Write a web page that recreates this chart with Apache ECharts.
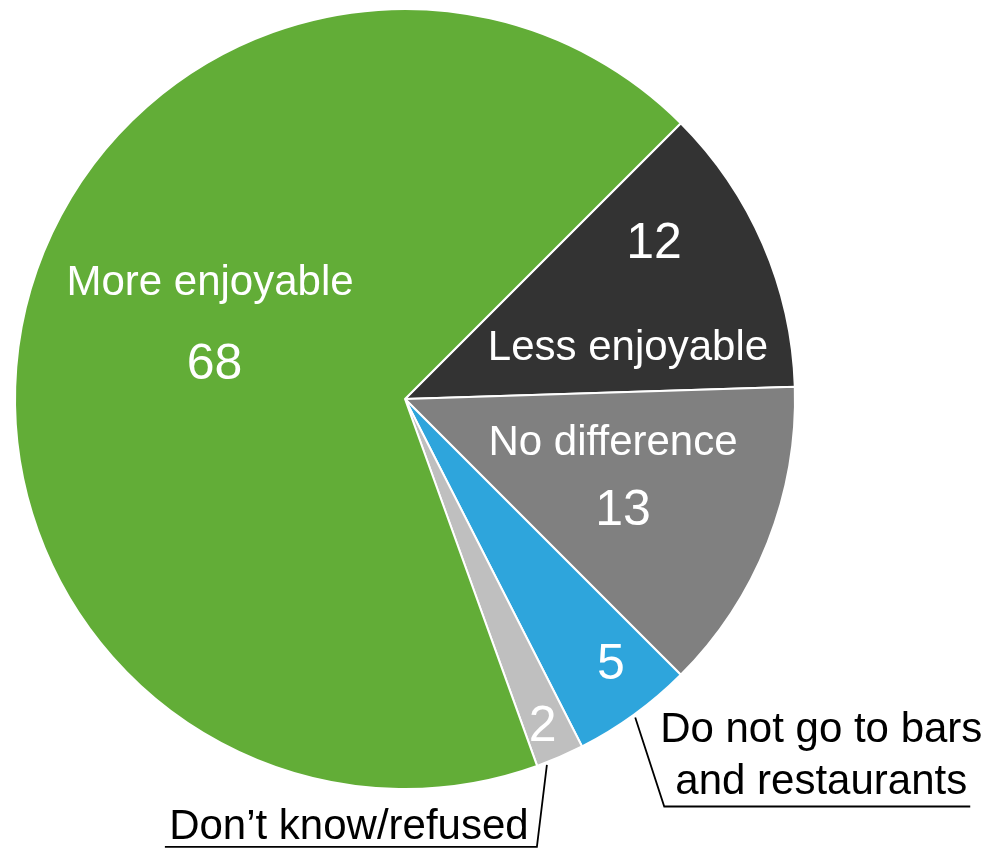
<!DOCTYPE html>
<html>
<head>
<meta charset="utf-8">
<script src="https://cdn.jsdelivr.net/npm/echarts@6/dist/echarts.min.js"></script>
<style>html,body{margin:0;padding:0;background:#fff}#c{width:990px;height:848px}</style>
</head>
<body>
<div id="c"></div>
<script>
// ---- data ----
const categories = ['Less enjoyable', 'No difference', 'Do not go to bars and restaurants', 'Don\u2019t know/refused', 'More enjoyable'];
const values = [12, 13, 5, 2, 68];
const labelTexts = ['Less enjoyable', 'No difference', 'Do not go to bars\nand restaurants', 'Don\u2019t know/refused', 'More enjoyable'];

// ---- styles ----
const colors = ['#333333', '#808080', '#2ea5dc', '#bfbfbf', '#62ad37'];
const FONT = '"Liberation Sans", Arial, Helvetica, sans-serif';
const CX = 405, CY = 399, R = 390, START = 45;

// inside label placement (radial distance, angle shift from slice middle, template, line height, value indent)
const innerCfg = [
  { rr: 245.5, shift: 1.34,  tpl: '{v|VAL}\n{n|NAME}', lh: 104, indent: 52 },
  { rr: 222.3, shift: 0.96,  tpl: '{n|NAME}\n{v|VAL}', lh: 67,  indent: 20 },
  { rr: 336.3, shift: 1.73,  tpl: '{v|VAL}',           lh: 56,  indent: 0 },
  { rr: 355.7, shift: -0.65, tpl: '{v|VAL}',           lh: 56,  indent: 0 },
  { rr: 208.9, shift: -8.44, tpl: '{n|NAME}\n{v|VAL}', lh: 82,  indent: 9 }
];
// outside label leader geometry relative to slice edge point
const outerCfg = {
  2: { start: [1, 3],   bend: [30, 92],  side: 1,  len: 306, mid: 157, lh: 52, textDy: 2 },
  3: { start: [-13, 8], bend: [-23, 90], side: -1, len: 372, mid: 188, lh: 44, textDy: 2 }
};

const chart = echarts.init(document.getElementById('c'), null, { renderer: 'canvas' });

const baseSeries = {
  type: 'pie',
  center: [CX, CY],
  radius: [0, R],
  startAngle: START,
  clockwise: true,
  avoidLabelOverlap: false,
  silent: true,
  animation: false,
  itemStyle: { borderColor: '#ffffff', borderWidth: 2 },
  emphasis: { disabled: true },
  data: categories.map((c, i) => {
    const o = outerCfg[i];
    return {
      name: c,
      value: values[i],
      itemStyle: { color: colors[i] },
      label: o ? {
        show: true, position: 'outside', formatter: labelTexts[i],
        color: '#000000', fontSize: 42, fontFamily: FONT, lineHeight: o.lh,
        width: 420, overflow: 'none'
      } : { show: false },
      labelLine: o ? { show: true, length: 20, length2: 20, lineStyle: { color: '#000000', width: 1.8 } } : { show: false }
    };
  }),
  labelLayout: function (p) {
    const o = outerCfg[p.dataIndex];
    if (!o || !p.labelLinePoints) return {};
    const a = p.labelLinePoints[0];
    const s = [a[0] + o.start[0], a[1] + o.start[1]];
    const b = [a[0] + o.bend[0], a[1] + o.bend[1]];
    const e = [b[0] + o.side * o.len, b[1]];
    return {
      x: b[0] + o.side * o.mid,
      y: b[1] + o.textDy,
      align: 'center',
      verticalAlign: 'bottom',
      labelLinePoints: [s, b, e]
    };
  }
};

const overlaySeries = innerCfg.map((o, k) => ({
  type: 'pie',
  center: [CX, CY],
  radius: [2 * (o.rr - 3) - R, R],
  startAngle: START + o.shift,
  clockwise: true,
  avoidLabelOverlap: false,
  silent: true,
  animation: false,
  itemStyle: { color: 'rgba(0,0,0,0)', borderWidth: 0 },
  emphasis: { disabled: true },
  labelLine: { show: false },
  label: {
    position: 'inside',
    color: '#ffffff',
    fontFamily: FONT,
    formatter: function (p) {
      return o.tpl.replace('NAME', labelTexts[p.dataIndex]).replace('VAL', p.value);
    },
    rich: {
      n: { fontSize: 42, lineHeight: o.lh, color: '#ffffff', fontFamily: FONT, align: 'center' },
      v: { fontSize: 50, lineHeight: o.lh, color: '#ffffff', fontFamily: FONT, align: 'center', padding: [0, 0, 0, o.indent] }
    }
  },
  data: categories.map((c, i) => ({ name: c, value: values[i], label: { show: i === k } }))
}));

chart.setOption({
  backgroundColor: '#ffffff',
  animation: false,
  series: [baseSeries].concat(overlaySeries)
});
</script>
</body>
</html>
